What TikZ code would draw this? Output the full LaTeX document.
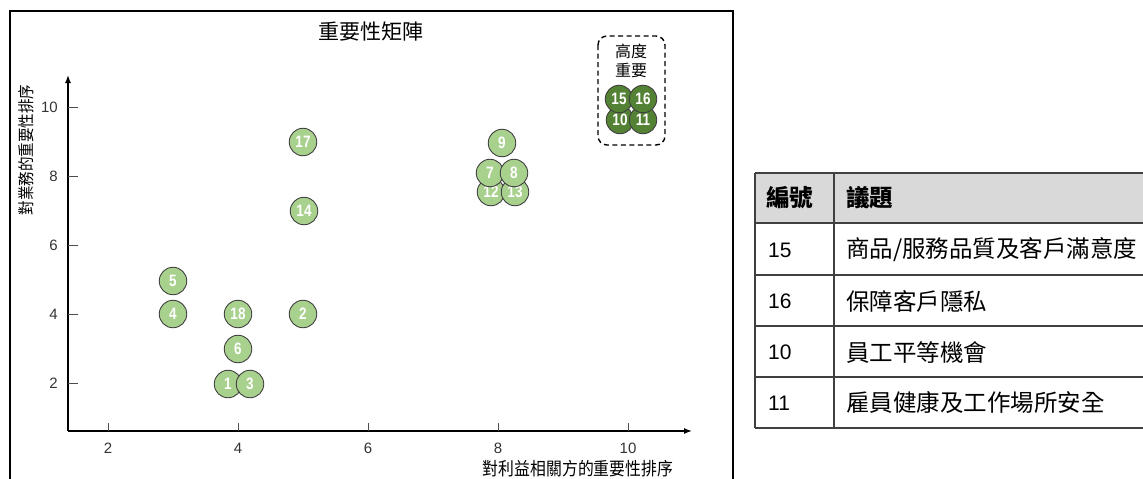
\documentclass[tikz,border=0pt]{standalone}
\usepackage{fontspec}
\setmainfont{Liberation Sans}
\newfontfamily\cjk{Noto Sans CJK TC}
\newfontfamily\cjknarrow[FakeStretch=0.88]{Noto Sans CJK TC}
\newfontfamily\numnarrow[FakeStretch=0.82]{Liberation Sans}
\usetikzlibrary{arrows.meta}
\definecolor{lgreen}{HTML}{A9D18E}
\definecolor{dgreen}{HTML}{548235}
\definecolor{hdrgray}{HTML}{D9D9D9}
\definecolor{rimgray}{HTML}{404040}
\tikzset{
  dot/.style={circle,draw=rimgray,line width=0.9pt,fill=lgreen,minimum size=27.5pt,inner sep=0pt,
    text=white,font=\numnarrow\bfseries\fontsize{16.5}{16.5}\selectfont},
  dotdark/.style={dot,fill=dgreen},
  axisline/.style={line width=1.4pt,-{Latex[length=8pt,width=6pt]}},
  tickline/.style={line width=0.8pt,black!70},
  ticklab/.style={font=\fontsize{15}{15}\selectfont,text=black!80,inner sep=0pt},
  tabline/.style={line width=1.4pt,rimgray},
  tabtext/.style={anchor=west,inner sep=0pt,font=\cjk\fontsize{23.5}{23.5}\selectfont},
  tabnum/.style={anchor=west,inner sep=0pt,font=\fontsize{21}{21}\selectfont},
}
\begin{document}
\begin{tikzpicture}[x=1pt,y=-1pt]
\useasboundingbox (0,0) rectangle (1143,479);
\clip (0,0) rectangle (1143,479);
% frame
\draw[line width=1.5pt] (10,11) rectangle (733,520);
% title
\node[font=\cjk\fontsize{21}{21}\selectfont] (title) at (371,32) {重要性矩陣};
% axes
\coordinate (o) at (68,431);
\coordinate (xend) at (692,431);
\coordinate (yend) at (68,75);
\draw[axisline] (o) -- (xend);
\draw[axisline] (o) -- (yend);
% x ticks
\foreach \v/\px in {2/108,4/238,6/368,8/498,10/628}{
  \draw[tickline] (\px,431) -- (\px,423);
  \node[ticklab] (xt\v) at (\px,448) {\v};
}
% y ticks
\foreach \v/\py in {10/107,8/176,6/245,4/314,2/383}{
  \draw[tickline] (68,\py) -- (78,\py);
  \node[ticklab,anchor=east] (yt\v) at (58,\py) {\v};
}
% axis labels
\node[font=\cjknarrow\fontsize{18}{18}\selectfont] (xlab) at (578,469) {對利益相關方的重要性排序};
\node[font=\cjknarrow\fontsize{16.5}{16.5}\selectfont,rotate=90] (ylab) at (26,150) {對業務的重要性排序};
% points
\node[dot] (p17) at (303,142) {17};
\node[dot] (p14) at (304,211) {14};
\node[dot] (p2) at (303,314) {2};
\node[dot] (p5) at (173,281) {5};
\node[dot] (p4) at (173,314) {4};
\node[dot] (p18) at (238,314) {18};
\node[dot] (p6) at (238,349) {6};
\node[dot] (p1) at (228,384) {1};
\node[dot] (p3) at (250,384) {3};
\node[dot] (p12) at (491,192) {12};
\node[dot] (p13) at (515,192) {13};
\node[dot] (p7) at (490,173) {7};
\node[dot] (p8) at (514,173) {8};
\node[dot] (p9) at (502,143) {9};
% high importance box
\draw[line width=1.4pt,dash pattern=on 5pt off 3.5pt,rounded corners=9pt] (598,36) rectangle (665,145);
\node[font=\cjk\fontsize{16}{19}\selectfont,align=center] (hi) at (631,61) {高度\\重要};
\node[dotdark] (p10) at (620,120) {10};
\node[dotdark] (p11) at (643,120) {11};
\node[dotdark] (p15) at (619,99) {15};
\node[dotdark] (p16) at (643,99) {16};
% table
\fill[hdrgray] (755,173) rectangle (1150,223);
\draw[tabline] (755,173) -- (1150,173);
\foreach \yy in {223,275,326,377,428}{
  \draw[tabline] (755,\yy) -- (1150,\yy);
}
\draw[tabline] (755,173) -- (755,428);
\draw[tabline] (834,173) -- (834,428);
\node[tabtext,font=\cjk\bfseries\fontsize{23.5}{23.5}\selectfont] (h1) at (766,198) {編號};
\node[tabtext,font=\cjk\bfseries\fontsize{23.5}{23.5}\selectfont] (h2) at (846,198) {議題};
\node[tabnum] (n1) at (768,250) {15};
\node[tabtext] (t1) at (846,250) {商品/服務品質及客戶滿意度};
\node[tabnum] (n2) at (768,301) {16};
\node[tabtext] (t2) at (846,301) {保障客戶隱私};
\node[tabnum] (n3) at (768,352) {10};
\node[tabtext] (t3) at (846,352) {員工平等機會};
\node[tabnum] (n4) at (768,403) {11};
\node[tabtext] (t4) at (846,403) {雇員健康及工作場所安全};
\end{tikzpicture}
\end{document}
